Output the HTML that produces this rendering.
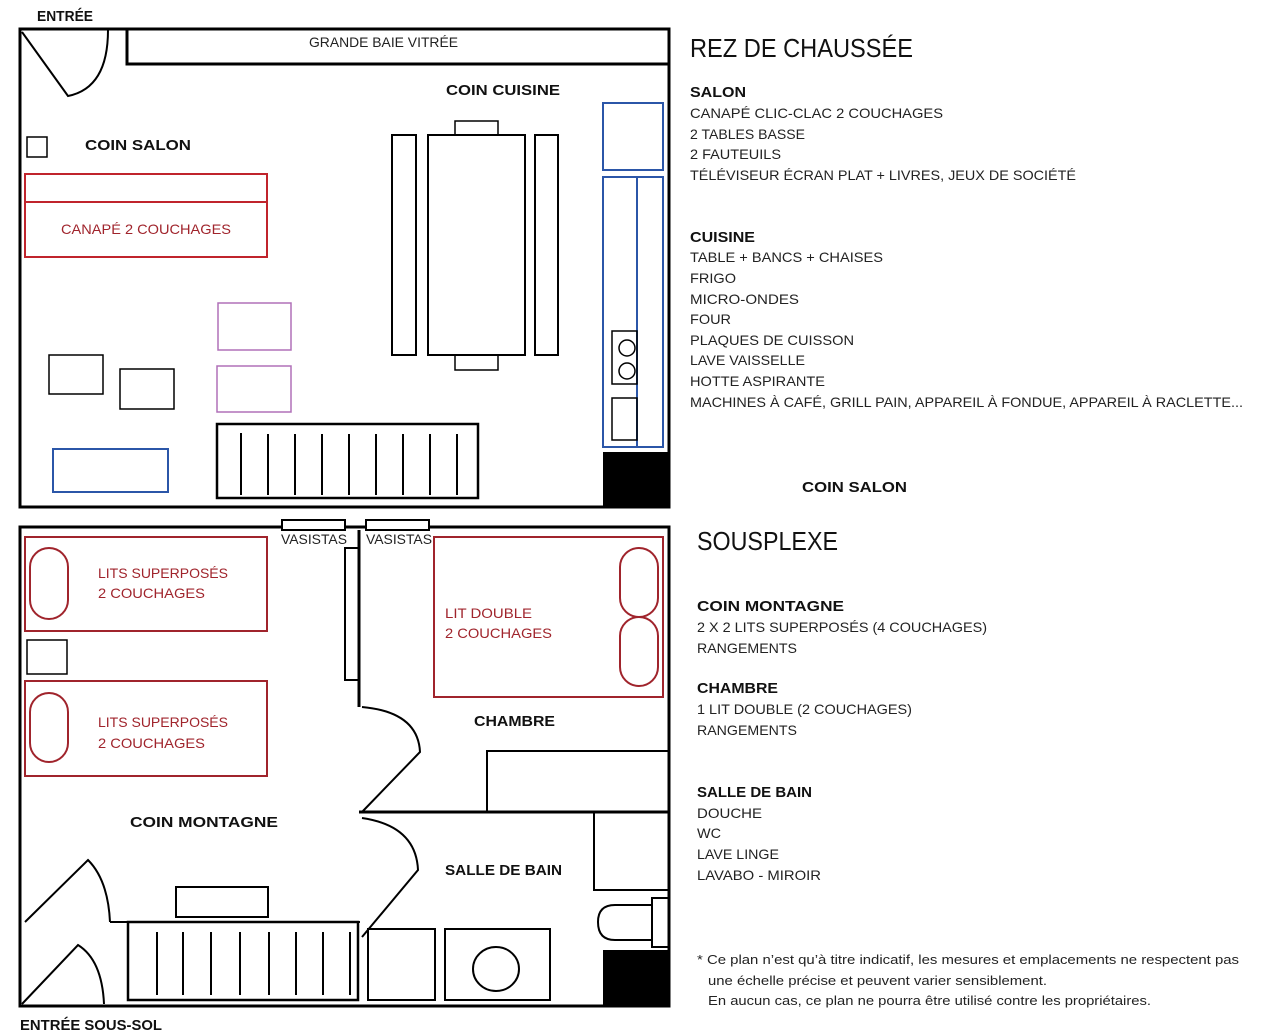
<!DOCTYPE html>
<html><head><meta charset="utf-8"><style>
html,body{margin:0;padding:0;background:#fff;}
svg{display:block;font-family:"Liberation Sans",sans-serif;}
.b{font-weight:bold;font-size:15px;fill:#111;}
.t{font-size:14px;fill:#222;}
.r{font-size:14px;fill:#a0242c;}
</style></head><body>
<svg width="1280" height="1034" viewBox="0 0 1280 1034" xmlns="http://www.w3.org/2000/svg">
<g fill="none" stroke="#000" stroke-width="3">
<!-- TOP PLAN -->
<rect x="20" y="29" width="649" height="478"/>
<rect x="127" y="29" width="542" height="35"/>
</g>
<g fill="none" stroke="#000" stroke-width="2">
<path d="M22 32 L68 96 Q108 88 108 30"/>
<rect x="27" y="137" width="20" height="20" stroke-width="1.5"/>
<rect x="49" y="355" width="54" height="39" stroke-width="1.5"/>
<rect x="120" y="369" width="54" height="40" stroke-width="1.5"/>
<rect x="392" y="135" width="24" height="220"/>
<rect x="428" y="135" width="97" height="220"/>
<rect x="535" y="135" width="23" height="220"/>
<rect x="455" y="121" width="43" height="14" stroke-width="1.5"/>
<rect x="455" y="355" width="43" height="15" stroke-width="1.5"/>
<rect x="217" y="424" width="261" height="74" stroke-width="2.5"/>
<path d="M241 433V495M268 434V495M295 434V495M322 434V495M349 434V495M376 434V495M403 434V495M430 434V495M457 434V495"/>
</g>
<g fill="none" stroke="#c0242c" stroke-width="2">
<rect x="25" y="174" width="242" height="83"/>
<line x1="25" y1="202" x2="267" y2="202"/>
</g>
<g fill="none" stroke="#b070b8" stroke-width="1.5">
<rect x="218" y="303" width="73" height="47"/>
<rect x="217" y="366" width="74" height="46"/>
</g>
<g fill="none" stroke="#2b56a8" stroke-width="2">
<rect x="53" y="449" width="115" height="43"/>
<rect x="603" y="103" width="60" height="67"/>
<rect x="603" y="177" width="60" height="270"/>
<line x1="637" y1="177" x2="637" y2="447"/>
</g>
<g fill="none" stroke="#000" stroke-width="1.5">
<rect x="612" y="331" width="25" height="53"/>
<circle cx="627" cy="348" r="8"/>
<circle cx="627" cy="371" r="8"/>
<rect x="612" y="398" width="25" height="42"/>
</g>
<rect x="603" y="452" width="66" height="55" fill="#000"/>

<!-- BOTTOM PLAN -->
<g fill="none" stroke="#000" stroke-width="3">
<rect x="20" y="527" width="649" height="479"/>
<line x1="359" y1="530" x2="359" y2="707"/>
<line x1="359" y1="812" x2="669" y2="812"/>
</g>
<rect x="282" y="520" width="63" height="10" fill="#fff" stroke="#000" stroke-width="2"/>
<rect x="366" y="520" width="63" height="10" fill="#fff" stroke="#000" stroke-width="2"/>
<g fill="none" stroke="#000" stroke-width="2">
<rect x="345" y="548" width="14" height="132"/>
<path d="M362 707 Q418 712 420 752 L362 812"/>
<path d="M362 818 Q416 826 418 870 L362 937"/>
<rect x="487" y="751" width="182" height="61"/>
<rect x="594" y="812" width="75" height="78"/>
<rect x="652" y="898" width="17" height="49"/>
<path d="M652 905 H615 Q598 905 598 922 Q598 940 615 940 H652"/>
<rect x="368" y="929" width="67" height="71"/>
<rect x="445" y="929" width="105" height="71"/>
<ellipse cx="496" cy="969" rx="23" ry="22"/>
<path d="M110 922 H360"/>
<rect x="128" y="922" width="230" height="78" stroke-width="2.5"/>
<path d="M157 932V995M183 932V995M211 932V995M240 932V995M269 932V995M296 932V995M323 932V995M350 932V995"/>
<rect x="176" y="887" width="92" height="30"/>
<path d="M25 922 L88 860 Q108 880 110 922"/>
<path d="M22 1004 L78 945 Q102 960 104 1004"/>
<rect x="27" y="640" width="40" height="34" stroke-width="1.5"/>
</g>
<g fill="none" stroke="#a0242c" stroke-width="2">
<rect x="25" y="537" width="242" height="94"/>
<rect x="30" y="548" width="38" height="71" rx="19"/>
<rect x="25" y="681" width="242" height="95"/>
<rect x="30" y="693" width="38" height="69" rx="19"/>
<rect x="434" y="537" width="229" height="160"/>
<rect x="620" y="548" width="38" height="69" rx="19"/>
<rect x="620" y="617" width="38" height="69" rx="19"/>
</g>
<rect x="603" y="950" width="66" height="56" fill="#000"/>

<!-- PLAN LABELS -->
<text x="37" y="21" class="b" font-size="14" textLength="56" lengthAdjust="spacingAndGlyphs">ENTRÉE</text>
<text x="309" y="47" class="t" textLength="149" lengthAdjust="spacingAndGlyphs">GRANDE BAIE VITRÉE</text>
<text x="446" y="95" class="b" textLength="114" lengthAdjust="spacingAndGlyphs">COIN CUISINE</text>
<text x="85" y="150" class="b" textLength="106" lengthAdjust="spacingAndGlyphs">COIN SALON</text>
<text x="61" y="234" class="r" textLength="170" lengthAdjust="spacingAndGlyphs">CANAPÉ 2 COUCHAGES</text>
<text x="281" y="544" class="t" textLength="66" lengthAdjust="spacingAndGlyphs">VASISTAS</text>
<text x="366" y="544" class="t" textLength="66" lengthAdjust="spacingAndGlyphs">VASISTAS</text>
<text x="98" y="578" class="r" textLength="130" lengthAdjust="spacingAndGlyphs">LITS SUPERPOSÉS</text>
<text x="98" y="598" class="r" textLength="107" lengthAdjust="spacingAndGlyphs">2 COUCHAGES</text>
<text x="98" y="727" class="r" textLength="130" lengthAdjust="spacingAndGlyphs">LITS SUPERPOSÉS</text>
<text x="98" y="748" class="r" textLength="107" lengthAdjust="spacingAndGlyphs">2 COUCHAGES</text>
<text x="445" y="618" class="r" textLength="87" lengthAdjust="spacingAndGlyphs">LIT DOUBLE</text>
<text x="445" y="638" class="r" textLength="107" lengthAdjust="spacingAndGlyphs">2 COUCHAGES</text>
<text x="474" y="726" class="b" textLength="81" lengthAdjust="spacingAndGlyphs">CHAMBRE</text>
<text x="130" y="827" class="b" textLength="148" lengthAdjust="spacingAndGlyphs">COIN MONTAGNE</text>
<text x="445" y="875" class="b" textLength="117" lengthAdjust="spacingAndGlyphs">SALLE DE BAIN</text>
<text x="20" y="1030" class="b" font-size="14" textLength="142" lengthAdjust="spacingAndGlyphs">ENTRÉE SOUS-SOL</text>

<!-- RIGHT TEXT TOP -->
<text x="690" y="57" font-size="26" fill="#111" textLength="223" lengthAdjust="spacingAndGlyphs">REZ DE CHAUSSÉE</text>
<text x="690" y="97" class="b" textLength="56" lengthAdjust="spacingAndGlyphs">SALON</text>
<text x="690" y="118" class="t" textLength="253" lengthAdjust="spacingAndGlyphs">CANAPÉ CLIC-CLAC 2 COUCHAGES</text>
<text x="690" y="139" class="t" textLength="115" lengthAdjust="spacingAndGlyphs">2 TABLES BASSE</text>
<text x="690" y="159" class="t" textLength="91" lengthAdjust="spacingAndGlyphs">2 FAUTEUILS</text>
<text x="690" y="180" class="t" textLength="386" lengthAdjust="spacingAndGlyphs">TÉLÉVISEUR ÉCRAN PLAT + LIVRES, JEUX DE SOCIÉTÉ</text>
<text x="690" y="242" class="b" textLength="65" lengthAdjust="spacingAndGlyphs">CUISINE</text>
<text x="690" y="262" class="t" textLength="193" lengthAdjust="spacingAndGlyphs">TABLE + BANCS + CHAISES</text>
<text x="690" y="283" class="t" textLength="46" lengthAdjust="spacingAndGlyphs">FRIGO</text>
<text x="690" y="304" class="t" textLength="109" lengthAdjust="spacingAndGlyphs">MICRO-ONDES</text>
<text x="690" y="324" class="t" textLength="41" lengthAdjust="spacingAndGlyphs">FOUR</text>
<text x="690" y="345" class="t" textLength="164" lengthAdjust="spacingAndGlyphs">PLAQUES DE CUISSON</text>
<text x="690" y="365" class="t" textLength="115" lengthAdjust="spacingAndGlyphs">LAVE VAISSELLE</text>
<text x="690" y="386" class="t" textLength="135" lengthAdjust="spacingAndGlyphs">HOTTE ASPIRANTE</text>
<text x="690" y="407" class="t" textLength="553" lengthAdjust="spacingAndGlyphs">MACHINES À CAFÉ, GRILL PAIN, APPAREIL À FONDUE, APPAREIL À RACLETTE...</text>
<text x="802" y="492" class="b" textLength="105" lengthAdjust="spacingAndGlyphs">COIN SALON</text>

<!-- RIGHT TEXT BOTTOM -->
<text x="697" y="550" font-size="26" fill="#111" textLength="141" lengthAdjust="spacingAndGlyphs">SOUSPLEXE</text>
<text x="697" y="611" class="b" textLength="147" lengthAdjust="spacingAndGlyphs">COIN MONTAGNE</text>
<text x="697" y="632" class="t" textLength="290" lengthAdjust="spacingAndGlyphs">2 X 2 LITS SUPERPOSÉS (4 COUCHAGES)</text>
<text x="697" y="653" class="t" textLength="100" lengthAdjust="spacingAndGlyphs">RANGEMENTS</text>
<text x="697" y="693" class="b" textLength="81" lengthAdjust="spacingAndGlyphs">CHAMBRE</text>
<text x="697" y="714" class="t" textLength="215" lengthAdjust="spacingAndGlyphs">1 LIT DOUBLE (2 COUCHAGES)</text>
<text x="697" y="735" class="t" textLength="100" lengthAdjust="spacingAndGlyphs">RANGEMENTS</text>
<text x="697" y="797" class="b" textLength="115" lengthAdjust="spacingAndGlyphs">SALLE DE BAIN</text>
<text x="697" y="818" class="t" textLength="65" lengthAdjust="spacingAndGlyphs">DOUCHE</text>
<text x="697" y="838" class="t" textLength="24" lengthAdjust="spacingAndGlyphs">WC</text>
<text x="697" y="859" class="t" textLength="82" lengthAdjust="spacingAndGlyphs">LAVE LINGE</text>
<text x="697" y="880" class="t" textLength="124" lengthAdjust="spacingAndGlyphs">LAVABO - MIROIR</text>
<text x="697" y="964" font-size="13" fill="#222" textLength="542" lengthAdjust="spacingAndGlyphs">* Ce plan n’est qu’à titre indicatif, les mesures et emplacements ne respectent pas</text>
<text x="708" y="985" font-size="13" fill="#222" textLength="339" lengthAdjust="spacingAndGlyphs">une échelle précise et peuvent varier sensiblement.</text>
<text x="708" y="1005" font-size="13" fill="#222" textLength="443" lengthAdjust="spacingAndGlyphs">En aucun cas, ce plan ne pourra être utilisé contre les propriétaires.</text>
</svg>
</body></html>
